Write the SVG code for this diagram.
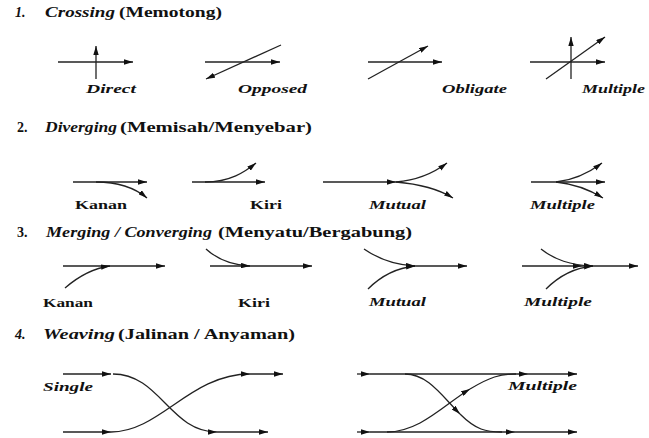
<svg xmlns="http://www.w3.org/2000/svg" width="649" height="438" viewBox="0 0 649 438">
<style>
text{font-family:"Liberation Serif","Times New Roman",serif;font-weight:bold;fill:#111}
.h{font-size:14px}
.i{font-style:italic}
.l{font-size:13px}
.ln{fill:none;stroke:#222;stroke-width:1.3;marker-end:url(#a)}
.nm{fill:none;stroke:#222;stroke-width:1.3}
</style>
<defs>
<marker id="a" viewBox="0 0 10 6" refX="10" refY="3" markerWidth="9" markerHeight="5.5" markerUnits="userSpaceOnUse" orient="auto">
<path d="M0,0 L10,3 L0,6 z" fill="#111"/>
</marker>
</defs>
<rect width="649" height="438" fill="#fff"/>

<g id="headers">
<text class="h" y="17"><tspan class="i" x="15">1.</tspan><tspan class="i" x="45" textLength="70" lengthAdjust="spacingAndGlyphs">Crossing</tspan><tspan x="119" textLength="103" lengthAdjust="spacingAndGlyphs">(Memotong)</tspan></text>
<text class="h" y="132"><tspan x="17">2.</tspan><tspan class="i" x="45" textLength="72" lengthAdjust="spacingAndGlyphs">Diverging</tspan><tspan x="120" textLength="192" lengthAdjust="spacingAndGlyphs">(Memisah/Menyebar)</tspan></text>
<text class="h" y="237"><tspan x="17">3.</tspan><tspan class="i" x="46" textLength="166" lengthAdjust="spacingAndGlyphs">Merging / Converging</tspan><tspan x="218" textLength="194" lengthAdjust="spacingAndGlyphs">(Menyatu/Bergabung)</tspan></text>
<text class="h" y="339"><tspan class="i" x="15">4.</tspan><tspan class="i" x="43" textLength="72" lengthAdjust="spacingAndGlyphs">Weaving</tspan><tspan x="118" textLength="177" lengthAdjust="spacingAndGlyphs">(Jalinan / Anyaman)</tspan></text>
</g>

<g id="crossing-direct">
<path class="ln" d="M58,62 H133"/>
<path class="ln" d="M96,79 V46"/>
<text class="l i" x="86" y="93" textLength="50" lengthAdjust="spacingAndGlyphs">Direct</text>
</g>
<g id="crossing-opposed">
<path class="ln" d="M205,62 H280"/>
<path class="ln" d="M281,45 L206,79"/>
<text class="l i" x="238" y="93" textLength="69" lengthAdjust="spacingAndGlyphs">Opposed</text>
</g>
<g id="crossing-obligate">
<path class="ln" d="M368,62 H442"/>
<path class="ln" d="M368,79 L428,46"/>
<text class="l i" x="442" y="93" textLength="65" lengthAdjust="spacingAndGlyphs">Obligate</text>
</g>
<g id="crossing-multiple">
<path class="ln" d="M530,62 H605"/>
<path class="ln" d="M571,79 V37"/>
<path class="ln" d="M546,79 L605,37"/>
<text class="l i" x="582" y="93" textLength="63" lengthAdjust="spacingAndGlyphs">Multiple</text>
</g>

<g id="diverging-kanan">
<path class="ln" d="M73,182 H147"/>
<path class="ln" d="M96,182 C120,182 135,188 147,198"/>
<text class="l" x="75" y="209" textLength="52" lengthAdjust="spacingAndGlyphs">Kanan</text>
</g>
<g id="diverging-kiri">
<path class="ln" d="M192,182 H265"/>
<path class="ln" d="M205,182 C230,182 245,172 256,163"/>
<text class="l" x="250" y="209" textLength="32" lengthAdjust="spacingAndGlyphs">Kiri</text>
</g>
<g id="diverging-mutual">
<path class="ln" d="M323,182 H396"/>
<path class="ln" d="M396,182 C420,180 435,172 447,163"/>
<path class="ln" d="M396,182 C420,184 440,190 453,198"/>
<text class="l i" x="369" y="209" textLength="57" lengthAdjust="spacingAndGlyphs">Mutual</text>
</g>
<g id="diverging-multiple">
<path class="ln" d="M531,182 H605"/>
<path class="ln" d="M556,182 C575,180 590,172 602,163"/>
<path class="ln" d="M556,182 C575,184 590,190 603,198"/>
<text class="l i" x="530" y="209" textLength="65" lengthAdjust="spacingAndGlyphs">Multiple</text>
</g>

<g id="merging-kanan">
<path class="ln" d="M63,266 H165"/>
<path class="ln" d="M65,288 C80,275 95,268 110,266"/>
<text class="l" x="43" y="307" textLength="50" lengthAdjust="spacingAndGlyphs">Kanan</text>
</g>
<g id="merging-kiri">
<path class="ln" d="M210,266 H312"/>
<path class="ln" d="M206,249 C218,260 232,265 250,266"/>
<text class="l" x="238" y="307" textLength="32" lengthAdjust="spacingAndGlyphs">Kiri</text>
</g>
<g id="merging-mutual">
<path class="ln" d="M414,266 H467"/>
<path class="ln" d="M364,249 C380,260 395,265 415,266"/>
<path class="ln" d="M368,289 C380,277 395,268 415,266"/>
<text class="l i" x="369" y="306" textLength="57" lengthAdjust="spacingAndGlyphs">Mutual</text>
</g>
<g id="merging-multiple">
<path class="ln" d="M522,266 H582"/>
<path class="ln" d="M582,266 H638"/>
<path class="ln" d="M541,249 C555,260 570,265 593,266"/>
<path class="ln" d="M546,289 C558,277 572,268 593,266"/>
<text class="l i" x="524" y="306" textLength="68" lengthAdjust="spacingAndGlyphs">Multiple</text>
</g>

<g id="weaving-single">
<path class="ln" d="M63,374 H111"/>
<path class="ln" d="M113,374 C160,374 170,432 217,432"/>
<path class="ln" d="M217,432 H268"/>
<path class="ln" d="M63,432 H111"/>
<path class="ln" d="M111,432 C160,432 190,374 250,374"/>
<path class="ln" d="M250,374 H283"/>
<text class="l i" x="43" y="391" textLength="50" lengthAdjust="spacingAndGlyphs">Single</text>
</g>
<g id="weaving-multiple">
<path class="ln" d="M357,374 H370"/>
<path class="ln" d="M370,374 H528"/>
<path class="ln" d="M528,374 H577"/>
<path class="ln" d="M357,432 H370"/>
<path class="ln" d="M370,432 H515"/>
<path class="ln" d="M515,432 H577"/>
<path class="ln" d="M405,374 C428,374 442,396 460,414"/>
<path class="nm" d="M460,414 C476,430 486,432 502,432"/>
<path class="ln" d="M387,432 C420,432 445,404 470,389"/>
<path class="nm" d="M470,389 C490,377 500,374 516,374"/>
<text class="l i" x="508" y="390" textLength="69" lengthAdjust="spacingAndGlyphs">Multiple</text>
</g>
</svg>
